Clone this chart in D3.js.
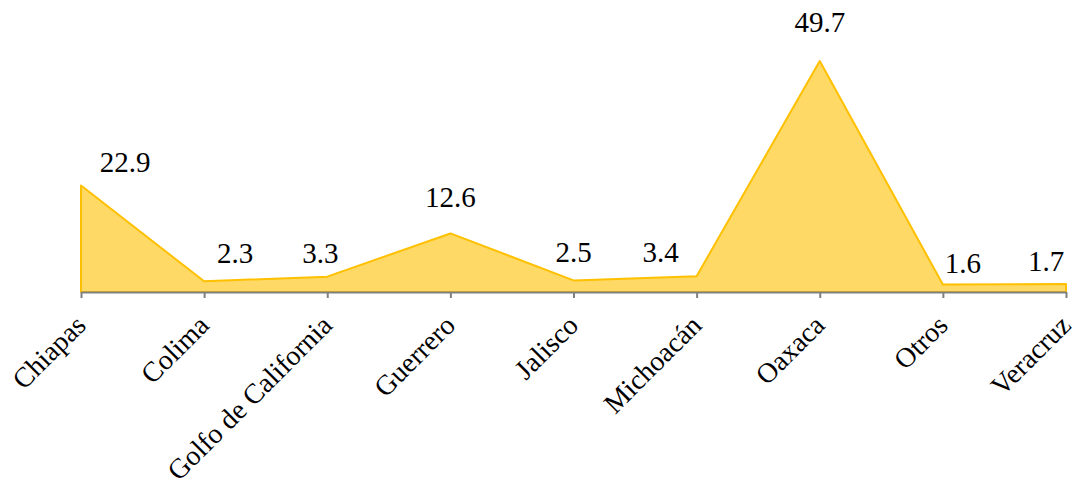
<!doctype html>
<html lang="es">
<head>
  <meta charset="UTF-8">
  <title>Chart</title>
  <script src="https://cdn.jsdelivr.net/npm/d3@7"></script>
</head>
<body style="margin: 0; background: #fff">
<div id="container"></div>
<script type="text/javascript">
var categories = ['Chiapas', 'Colima', 'Golfo de California', 'Guerrero', 'Jalisco',
  'Michoacán', 'Oaxaca', 'Otros', 'Veracruz'];
var values = [22.9, 2.3, 3.3, 12.6, 2.5, 3.4, 49.7, 1.6, 1.7];
var valueLabels = ['22.9', '2.3', '3.3', '12.6', '2.5', '3.4', '49.7', '1.6', '1.7'];

// label nudges (px) so the value labels sit like in the original
var labelDx = [44, 31, -7, 0, 0, -36, 0, 20, -20];
var labelDy = [-14, -18, -14, -26, -18, -14, -29, -12, -13];

var width = 1076, height = 489;
var svg = d3.select('#container').append('svg')
  .attr('width', width)
  .attr('height', height)
  .attr('font-family', 'Liberation Serif')
  .style('font-family', "'Liberation Serif'");

var x = d3.scalePoint().domain(categories).range([81, 1066]);
var y = d3.scaleLinear().domain([0, 49.7]).range([292, 61]);

var data = categories.map(function(c, i) { return { cat: c, v: values[i], label: valueLabels[i] }; });

var area = d3.area()
  .x(function(d) { return x(d.cat); })
  .y0(y(0))
  .y1(function(d) { return y(d.v); });

svg.append('path')
  .datum(data)
  .attr('d', area)
  .attr('fill', '#FFD966')
  .attr('stroke', '#FFC000')
  .attr('stroke-width', 2)
  .attr('stroke-linejoin', 'round');

var xAxis = d3.axisBottom(x).tickSize(6).tickSizeOuter(0);
var gx = svg.append('g')
  .attr('transform', 'translate(0,' + y(0) + ')')
  .call(xAxis);
gx.attr('font-family', 'Liberation Serif').attr('font-size', null);
gx.select('.domain').attr('stroke', '#808080').attr('stroke-width', 2);
gx.selectAll('.tick line').attr('stroke', '#808080').attr('stroke-width', 2);
gx.selectAll('.tick text')
  .attr('font-family', 'Liberation Serif')
  .style('font-family', "'Liberation Serif'")
  .style('font-size', '28px')
  .attr('fill', '#000')
  .attr('text-anchor', 'end')
  .attr('dy', null)
  .attr('y', null)
  .attr('transform', 'translate(6,35) rotate(-45)');

var labels = svg.append('g')
  .attr('font-family', 'Liberation Serif');

labels.selectAll('.vlabel')
  .data(data)
  .enter()
  .append('text')
  .attr('class', 'vlabel')
  .attr('x', function(d, i) { return x(d.cat) + labelDx[i]; })
  .attr('y', function(d, i) { return y(d.v) + labelDy[i]; })
  .attr('text-anchor', 'middle')
  .attr('font-family', 'Liberation Serif')
  .style('font-family', "'Liberation Serif'")
  .style('font-size', '29px')
  .attr('fill', '#000')
  .text(function(d) { return d.label; });
</script>
</body>
</html>
